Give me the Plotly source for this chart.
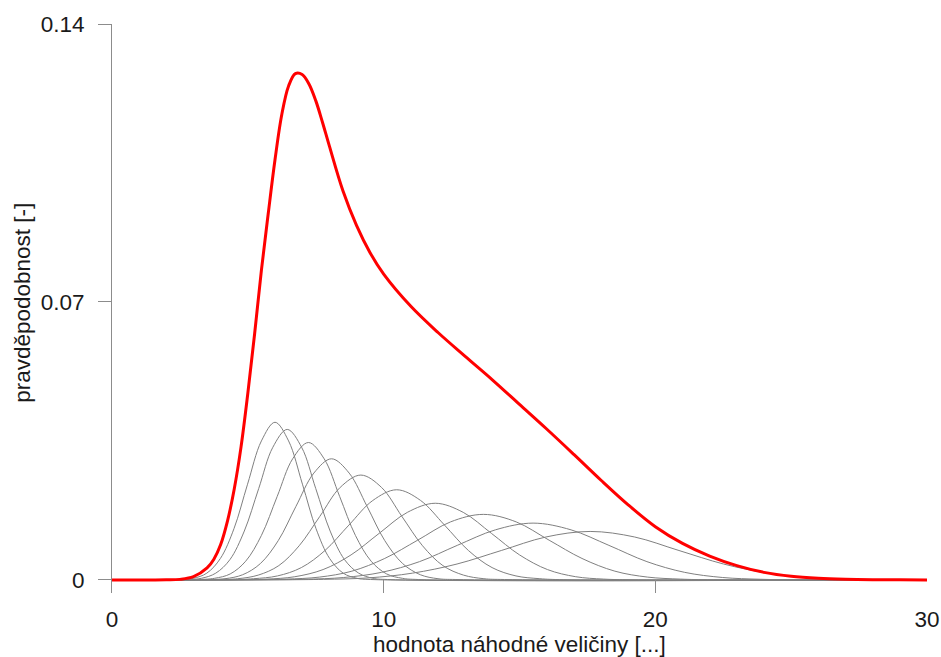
import plotly.graph_objects as go

# ---- data ----
# red: overall (mixture) density
red_x = [0, 1, 2, 2.5, 3, 3.5, 3.75, 4, 4.25, 4.5, 4.75, 5, 5.25, 5.5, 5.75, 6, 6.25,
         6.5, 6.75, 7, 7.25, 7.5, 7.75, 8, 8.5, 9, 9.5, 10, 11, 12, 13, 14, 15, 16,
         17, 18, 19, 20, 21, 22, 23, 24, 25, 26, 27, 28, 29, 30]
red_y = [0, 0, 0.00001, 0.00013, 0.0008, 0.0030, 0.0052, 0.0089, 0.0148, 0.0229,
         0.0335, 0.0470, 0.0620, 0.0780, 0.0922, 0.1058, 0.1172, 0.1244, 0.1275,
         0.1273, 0.1249, 0.1207, 0.1152, 0.1093, 0.0980, 0.0893, 0.0824, 0.0770,
         0.0689, 0.0623, 0.0563, 0.0504, 0.0442, 0.0380, 0.0316, 0.0251, 0.0189,
         0.0134, 0.0092, 0.0060, 0.0036, 0.0019, 0.0009, 0.0004, 0.00016, 0.00006,
         0.00002, 0]

# grey: individual component densities
comp1_x = [0, 2.48, 2.99, 3.49, 3.99, 4.49, 4.99, 5.50, 6.00, 6.50, 7.01, 7.51, 8.01, 8.51, 9.02, 9.52, 30]
comp1_y = [0, 0.0001, 0.0004, 0.0017, 0.0054, 0.0129, 0.0241, 0.0350, 0.0397, 0.0350, 0.0241, 0.0129, 0.0054, 0.0017, 0.0004, 0.0001, 0]
comp2_x = [0, 2.76, 3.29, 3.82, 4.34, 4.87, 5.40, 5.92, 6.45, 6.98, 7.50, 8.03, 8.56, 9.08, 9.61, 10.14, 30]
comp2_y = [0, 0.0001, 0.0004, 0.0017, 0.0051, 0.0123, 0.0230, 0.0334, 0.0379, 0.0334, 0.0230, 0.0123, 0.0051, 0.0017, 0.0004, 0.0001, 0]
comp3_x = [0, 3.19, 3.77, 4.35, 4.92, 5.50, 6.08, 6.65, 7.23, 7.81, 8.38, 8.96, 9.54, 10.11, 10.69, 11.27, 30]
comp3_y = [0, 0.0001, 0.0004, 0.0015, 0.0047, 0.0112, 0.0210, 0.0305, 0.0346, 0.0305, 0.0210, 0.0112, 0.0047, 0.0015, 0.0004, 0.0001, 0]
comp4_x = [0, 3.50, 4.16, 4.81, 5.46, 6.12, 6.77, 7.43, 8.08, 8.73, 9.39, 10.04, 10.70, 11.35, 12.00, 12.66, 30]
comp4_y = [0, 0.0001, 0.0003, 0.0013, 0.0041, 0.0099, 0.0185, 0.0269, 0.0305, 0.0269, 0.0185, 0.0099, 0.0041, 0.0013, 0.0003, 0.0001, 0]
comp5_x = [0, 3.87, 4.63, 5.38, 6.14, 6.89, 7.65, 8.40, 9.16, 9.92, 10.67, 11.43, 12.18, 12.94, 13.69, 14.45, 30]
comp5_y = [0, 0.0001, 0.0003, 0.0012, 0.0036, 0.0086, 0.0160, 0.0233, 0.0264, 0.0233, 0.0160, 0.0086, 0.0036, 0.0012, 0.0003, 0.0001, 0]
comp6_x = [0, 4.33, 5.21, 6.09, 6.97, 7.84, 8.72, 9.60, 10.48, 11.36, 12.24, 13.12, 13.99, 14.87, 15.75, 16.63, 30]
comp6_y = [0, 0.00005, 0.0003, 0.0010, 0.0031, 0.0074, 0.0138, 0.0200, 0.0227, 0.0200, 0.0138, 0.0074, 0.0031, 0.0010, 0.0003, 0.00005, 0]
comp7_x = [0, 4.67, 5.70, 6.73, 7.77, 8.80, 9.83, 10.87, 11.90, 12.93, 13.97, 15.00, 16.03, 17.07, 18.10, 19.14, 30]
comp7_y = [0, 0.00004, 0.0002, 0.0008, 0.0026, 0.0063, 0.0117, 0.0170, 0.0193, 0.0170, 0.0117, 0.0063, 0.0026, 0.0008, 0.0002, 0.00004, 0]
comp8_x = [0, 5.21, 6.42, 7.63, 8.83, 10.04, 11.25, 12.46, 13.67, 14.88, 16.09, 17.30, 18.51, 19.72, 20.92, 22.13, 30]
comp8_y = [0, 0.00004, 0.0002, 0.0007, 0.0022, 0.0054, 0.0100, 0.0146, 0.0165, 0.0146, 0.0100, 0.0054, 0.0022, 0.0007, 0.0002, 0.00004, 0]
comp9_x = [0, 5.74, 7.13, 8.53, 9.92, 11.32, 12.71, 14.11, 15.50, 16.90, 18.29, 19.69, 21.08, 22.48, 23.87, 25.27, 30]
comp9_y = [0, 0.00003, 0.00016, 0.0006, 0.0019, 0.0046, 0.0087, 0.0126, 0.0143, 0.0126, 0.0087, 0.0046, 0.0019, 0.0006, 0.00016, 0.00003, 0]
comp10_x = [0, 6.16, 7.79, 9.43, 11.06, 12.70, 14.33, 15.97, 17.60, 19.24, 20.87, 22.51, 24.14, 25.78, 27.41, 29.05, 30]
comp10_y = [0, 0.00003, 0.00014, 0.0005, 0.0017, 0.0040, 0.0074, 0.0108, 0.0122, 0.0108, 0.0074, 0.0040, 0.0017, 0.0005, 0.00014, 0.00003, 0]

components = [
    (comp1_x, comp1_y), (comp2_x, comp2_y), (comp3_x, comp3_y), (comp4_x, comp4_y),
    (comp5_x, comp5_y), (comp6_x, comp6_y), (comp7_x, comp7_y), (comp8_x, comp8_y),
    (comp9_x, comp9_y), (comp10_x, comp10_y),
]

x_ticks = [0, 10, 20, 30]
y_ticks = [0, 0.07, 0.14]
y_tick_labels = ["0", "0.07", "0.14"]
x_title = "hodnota náhodné veličiny [...]"
y_title = "pravděpodobnost [-]"

# ---- figure ----
fig = go.Figure()
for cx, cy in components:
    fig.add_trace(go.Scatter(
        x=cx, y=cy, mode="lines",
        line=dict(color="rgb(128,128,128)", width=1, shape="spline", smoothing=1),
        hoverinfo="skip", showlegend=False,
    ))

fig.add_trace(go.Scatter(
    x=red_x, y=red_y, mode="lines",
    line=dict(color="#ff0000", width=3, shape="spline", smoothing=1),
    showlegend=False,
))

axis_grey = "#8c8c8c"
FONT = "Liberation Sans, Arial, sans-serif"
fig.update_layout(
    width=941, height=657,
    margin=dict(l=112, r=14, t=24, b=64),
    paper_bgcolor="white", plot_bgcolor="white",
    showlegend=False,
    font=dict(family=FONT, size=22.5, color="#1a1a1a"),
    annotations=[
        dict(text=x_title, xref="paper", yref="paper", x=0.5, y=0,
             xanchor="center", yanchor="middle", yshift=-51, showarrow=False,
             font=dict(family=FONT, size=22.5, color="#1a1a1a")),
        dict(text=y_title, xref="paper", yref="paper", x=0, y=0.51,
             xanchor="center", yanchor="middle", xshift=-89, textangle=-90,
             showarrow=False, font=dict(family=FONT, size=22.5, color="#1a1a1a")),
    ],
)
fig.update_xaxes(
    range=[0, 30], tickvals=x_ticks,
    ticks="inside", ticklen=13, tickwidth=1, tickcolor=axis_grey,
    showline=False, showgrid=False, zeroline=False,
    ticklabelstandoff=10, automargin=False,
)
fig.update_yaxes(
    range=[-0.0033, 0.14], tickvals=y_ticks, ticktext=y_tick_labels,
    ticks="outside", ticklen=13, tickwidth=1, tickcolor=axis_grey,
    showline=True, linecolor=axis_grey, linewidth=1,
    showgrid=False, zeroline=False,
    ticklabelstandoff=9, automargin=False,
)

# remove the default 8px page margin so the 941x657 figure fills the window exactly
fig.write_html(
    "out.html",
    config={"displayModeBar": False},
    post_script="document.body.style.margin='0';document.body.style.overflow='hidden';",
)
